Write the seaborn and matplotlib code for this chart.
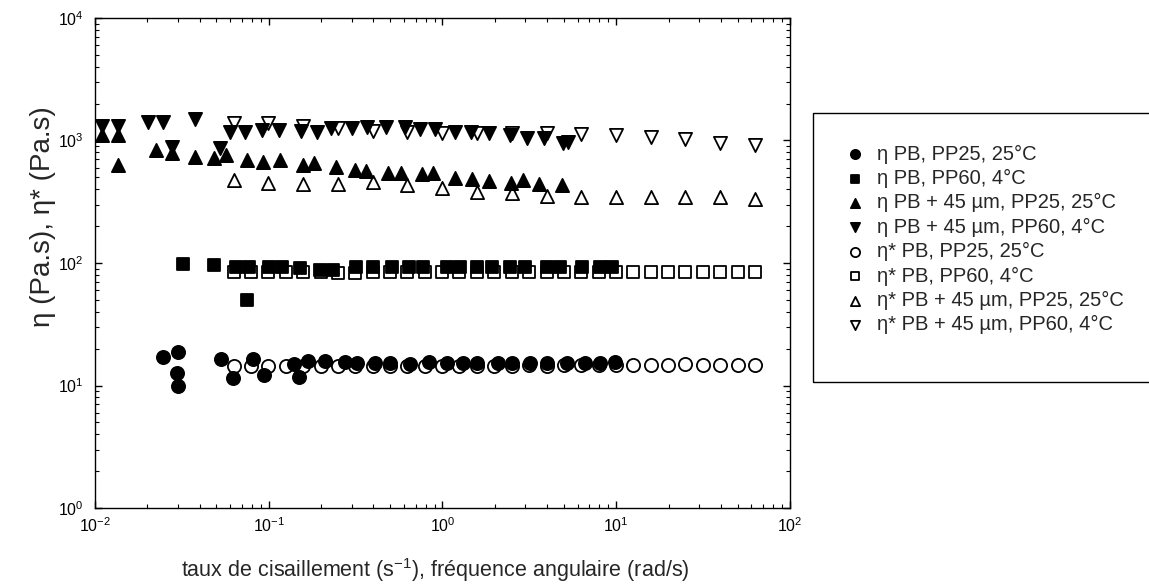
import matplotlib
matplotlib.use("Agg")
import matplotlib.pyplot as plt
import matplotlib.patches as mpatches
from matplotlib.ticker import LogLocator, NullFormatter
import seaborn as sns
import pandas as pd

# ---- steady shear viscosity eta (shear rate, 1/s) ----
pb_pp25_rate = [0.0247, 0.0302, 0.0298, 0.0302, 0.0531, 0.0625, 0.0815, 0.094, 0.139, 0.150,
                0.169, 0.211, 0.275, 0.321, 0.409, 0.499, 0.65, 0.84, 1.06, 1.32,
                1.58, 2.10, 2.51, 3.19, 3.98, 5.2, 6.6, 8.1, 9.86]
pb_pp25_eta = [17.2, 18.9, 12.6, 9.9, 16.5, 11.5, 16.4, 12.2, 15.0, 11.8,
               15.9, 15.9, 15.6, 15.2, 15.3, 15.3, 14.9, 15.5, 15.4, 15.3,
               15.4, 15.3, 15.3, 15.3, 15.4, 15.4, 15.3, 15.3, 15.6]

pb_pp60_rate = [0.032, 0.0484, 0.0648, 0.0747, 0.0773, 0.1007, 0.119, 0.151, 0.197, 0.235,
                0.317, 0.397, 0.515, 0.645, 0.77, 1.06, 1.26, 1.57, 1.92, 2.45,
                2.99, 3.98, 4.75, 6.34, 8.08, 9.43]
pb_pp60_eta = [98, 96, 92, 50, 92, 92, 92, 91, 87, 87,
               92, 92, 92, 92, 92, 92, 92, 92, 92, 92,
               92, 92, 92, 92, 92, 92]

fil_pp25_rate = [0.0109, 0.0136, 0.0136, 0.0223, 0.0276, 0.0377, 0.0486, 0.0566, 0.0747, 0.093,
                 0.116, 0.157, 0.182, 0.243, 0.314, 0.363, 0.488, 0.575, 0.76, 0.887,
                 1.18, 1.48, 1.86, 2.47, 2.92, 3.57, 4.86]
fil_pp25_eta = [1109, 1109, 631, 836, 786, 738, 716, 762, 693, 671,
                693, 631, 659, 604, 574, 567, 546, 540, 533, 540,
                491, 482, 470, 453, 476, 441, 433]

fil_pp60_rate = [0.0109, 0.0136, 0.0201, 0.0247, 0.0276, 0.0377, 0.0524, 0.0598, 0.0731, 0.0912,
                 0.115, 0.153, 0.189, 0.227, 0.301, 0.367, 0.473, 0.609, 0.743, 0.906,
                 1.18, 1.46, 1.86, 2.45, 3.05, 3.86, 4.92, 5.3]
fil_pp60_eta = [1313, 1313, 1425, 1425, 890, 1500, 863, 1180, 1180, 1218,
                1218, 1196, 1180, 1257, 1271, 1297, 1297, 1284, 1234, 1234,
                1180, 1180, 1146, 1109, 1042, 1042, 960, 977]

# ---- complex viscosity eta* (angular frequency, rad/s) ----
freq_fine = [0.0628, 0.0791, 0.0995, 0.125, 0.158, 0.199, 0.25, 0.315, 0.397, 0.5,
             0.628, 0.791, 0.995, 1.25, 1.58, 1.99, 2.5, 3.15, 3.97, 5.0,
             6.28, 7.91, 9.95, 12.5, 15.8, 19.9, 25.0, 31.5, 39.7, 50.0, 62.8]
pb_pp25_etastar = [14.3, 14.4, 14.3, 14.4, 14.3, 14.4, 14.4, 14.3, 14.4, 14.4,
                   14.5, 14.4, 14.5, 14.5, 14.5, 14.5, 14.5, 14.6, 14.5, 14.6,
                   14.6, 14.6, 14.6, 14.7, 14.7, 14.7, 14.9, 14.7, 14.7, 14.7, 14.7]
pb_pp60_etastar = [84, 84, 84, 84, 84, 84, 83, 83, 84, 84,
                   84, 84, 84, 84, 84, 84, 84, 84, 84, 84,
                   84, 84, 84, 84, 84, 84, 84, 84, 84, 84, 84]

freq_coarse = [0.0628, 0.0995, 0.158, 0.25, 0.397, 0.628, 0.995, 1.58, 2.5, 3.97,
               6.28, 9.95, 15.8, 25.0, 39.7, 62.8]
fil_pp25_etastar = [476, 453, 441, 441, 461, 433, 407, 382, 371, 352,
                    348, 344, 344, 344, 344, 331]
fil_pp60_etastar = [1381, 1381, 1313, 1257, 1202, 1180, 1158, 1158, 1158, 1158,
                    1130, 1109, 1074, 1023, 948, 919]

series_labels = [
    "η PB, PP25, 25°C",
    "η PB, PP60, 4°C",
    "η PB + 45 µm, PP25, 25°C",
    "η PB + 45 µm, PP60, 4°C",
    "η* PB, PP25, 25°C",
    "η* PB, PP60, 4°C",
    "η* PB + 45 µm, PP25, 25°C",
    "η* PB + 45 µm, PP60, 4°C",
]

series = [
    (pb_pp25_rate, pb_pp25_eta, "o", True),
    (pb_pp60_rate, pb_pp60_eta, "s", True),
    (fil_pp25_rate, fil_pp25_eta, "^", True),
    (fil_pp60_rate, fil_pp60_eta, "v", True),
    (freq_fine, pb_pp25_etastar, "o", False),
    (freq_fine, pb_pp60_etastar, "s", False),
    (freq_coarse, fil_pp25_etastar, "^", False),
    (freq_coarse, fil_pp60_etastar, "v", False),
]

sns.set_theme(style="ticks")
plt.rcParams["font.family"] = ["Liberation Sans", "DejaVu Sans"]
plt.rcParams["mathtext.default"] = "regular"
plt.rcParams["axes.unicode_minus"] = False

fig = plt.figure(figsize=(11.49, 5.87), dpi=100)
ax = fig.add_axes([0.08268, 0.13458, 0.60487, 0.83476])

marker_area = {"o": 90, "s": 75, "^": 90, "v": 90}
for (xs, ys, mk, filled), lab in zip(series, series_labels):
    df = pd.DataFrame({"x": xs, "y": ys})
    # steady-shear (filled) points sit above the oscillatory (open) ones
    sns.scatterplot(data=df, x="x", y="y", marker=mk, s=marker_area[mk],
                    color="black", facecolor="black" if filled else "white",
                    edgecolor="black", linewidth=1.3, ax=ax, label=lab,
                    zorder=4 if filled else 3)
h, l = ax.get_legend_handles_labels()
ax.get_legend().remove()

ax.set_xscale("log")
ax.set_yscale("log")
ax.set_xlim(1e-2, 1e2)
ax.set_ylim(1e0, 1e4)

ax.xaxis.set_major_locator(LogLocator(base=10, numticks=10))
ax.yaxis.set_major_locator(LogLocator(base=10, numticks=10))
ax.xaxis.set_minor_locator(LogLocator(base=10, subs=range(2, 10), numticks=20))
ax.yaxis.set_minor_locator(LogLocator(base=10, subs=range(2, 10), numticks=20))
ax.xaxis.set_minor_formatter(NullFormatter())
ax.yaxis.set_minor_formatter(NullFormatter())

ax.tick_params(which="both", direction="in", top=True, right=True, colors="black")
ax.tick_params(which="major", length=5, width=1, labelsize=11.5)
ax.tick_params(axis="x", which="major", pad=6)
ax.tick_params(axis="y", which="major", pad=8)
ax.tick_params(which="minor", length=3, width=0.8)
for sp in ax.spines.values():
    sp.set_visible(True)
    sp.set_color("black")
    sp.set_linewidth(1.0)

ax.set_xlabel("taux de cisaillement (s$^{-1}$), fréquence angulaire (rad/s)", fontsize=15.5)
ax.set_ylabel("η (Pa.s), η* (Pa.s)", fontsize=20)
ax.xaxis.set_label_coords(0.489, -0.098)
ax.yaxis.set_label_coords(-0.056, 0.594)

# boxed legend to the right of the plot
frame = mpatches.Rectangle((813 / 1149, 1 - 382 / 587), 0.4, (382 - 113) / 587,
                           transform=fig.transFigure, fill=False,
                           edgecolor="black", linewidth=1.0)
fig.add_artist(frame)
fig.legend(h, l, loc="upper left", bbox_to_anchor=(847 / 1149, 1 - 144.5 / 587),
           frameon=False, fontsize=14.5, markerscale=0.7, handlelength=0.8,
           handletextpad=0.69, labelspacing=0.265, borderpad=0, borderaxespad=0)

fig.savefig("out.png", dpi=100)
